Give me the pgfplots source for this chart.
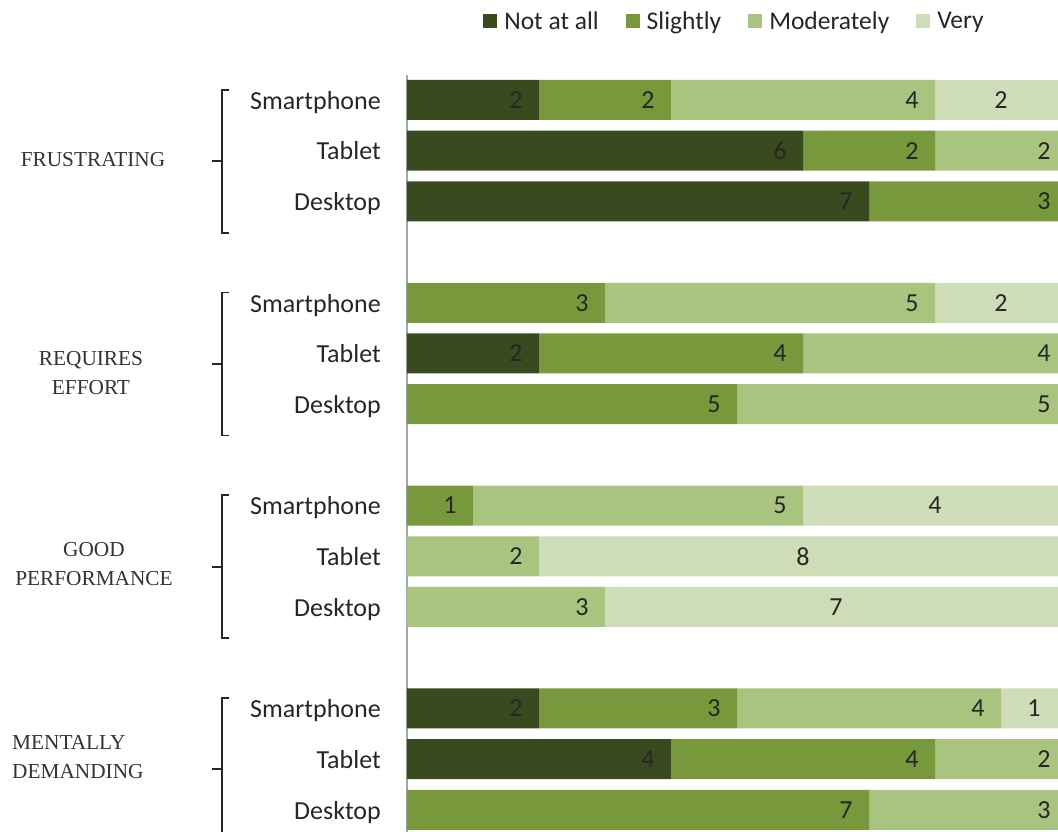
\documentclass[border=0pt]{standalone}
\usepackage{pgfplots}
\pgfplotsset{compat=1.18}
\usepackage{pgfplotstable}
\usepackage{fontspec}
\setmainfont{Carlito}
\newfontfamily\grpfont{Liberation Serif}
\definecolor{cNot}{HTML}{3A4A1F}
\definecolor{cSli}{HTML}{77993C}
\definecolor{cMod}{HTML}{A9C47F}
\definecolor{cVer}{HTML}{CEDCB7}
\definecolor{txt}{HTML}{262626}
\definecolor{grp}{HTML}{333333}

\pgfplotstableread{
pos na sl mo ve
0  2 2 4 2
1  6 2 2 0
2  7 3 0 0
4  0 3 5 2
5  2 4 4 0
6  0 5 5 0
8  0 1 5 4
9  0 0 2 8
10 0 0 3 7
12 2 3 4 1
13 4 4 2 0
14 0 7 3 0
}\data

\begin{document}
\begin{tikzpicture}
\begin{axis}[
  x=66pt, y=50.7pt,
  xmin=0, xmax=10,
  ymin=-0.493, ymax=14.438,
  y dir=reverse,
  enlargelimits=false,
  xbar stacked,
  bar width=40pt,
  axis x line=none,
  axis y line=left,
  y axis line style={-, draw=black!35, line width=1.5pt},
  ytick={0,1,2,4,5,6,8,9,10,12,13,14},
  yticklabels={Smartphone,Tablet,Desktop,Smartphone,Tablet,Desktop,Smartphone,Tablet,Desktop,Smartphone,Tablet,Desktop},
  ytick style={draw=none},
  major tick length=0pt,
  yticklabel style={font=\fontsize{26}{30}\selectfont, text=txt, anchor=east, inner sep=0pt, text height=18pt, text depth=6pt, xshift=-26pt, yshift=-3.3pt},
  point meta=explicit,
  /pgf/number format/assume math mode=true,
  nodes near coords={\pgfmathfloatifflags{\pgfplotspointmeta}{0}{}{\pgfmathprintnumber{\pgfplotspointmeta}}},
  every node near coord/.append style={font=\fontsize{26}{30}\selectfont, text=txt, anchor=center, inner sep=0pt},
  legend columns=-1,
  legend image code/.code={\fill[#1,draw=none] (0pt,-7pt) rectangle (14pt,7pt);},
  legend style={at={(0.4955,1)}, anchor=center, yshift=54pt, draw=none, fill=none,
    font=\fontsize{25.5}{30}\selectfont, text=txt,
    nodes={inner sep=1pt},
    /tikz/every odd column/.append style={column sep=6pt},
    /tikz/every even column/.append style={column sep=26pt}},
]
\addplot[fill=cNot, draw=none,
  visualization depends on={rawx \as \vv},
  nodes near coords style={xshift=\vv*33pt-23pt}] table[x=na, y=pos, meta=na] \data;
\addplot[fill=cSli, draw=none,
  visualization depends on={rawx \as \vv},
  nodes near coords style={xshift=\vv*33pt-23pt}] table[x=sl, y=pos, meta=sl] \data;
\addplot[fill=cMod, draw=none,
  visualization depends on={rawx \as \vv},
  nodes near coords style={xshift=\vv*33pt-23pt}] table[x=mo, y=pos, meta=mo] \data;
\addplot[fill=cVer, draw=none] table[x=ve, y=pos, meta=ve] \data;
\legend{Not at all, Slightly, Moderately, Very}
\end{axis}
% group braces
\foreach \d in {0,202.6,405.2,607.8}{
  \draw[txt, line width=1.7pt] (-178pt,742pt-\d pt) -- (-185pt,742pt-\d pt) -- (-185pt,599pt-\d pt) -- (-178pt,599pt-\d pt);
  \draw[txt, line width=2pt] (-185pt,670.5pt-\d pt) -- (-195pt,670.5pt-\d pt);
}
\begin{scope}[every node/.style={font=\grpfont\fontsize{21.3}{29}\selectfont, text=grp, inner sep=0pt}]
\node[align=center] at (-314pt,672pt) {FRUSTRATING};
\node[align=center] at (-316pt,458.5pt) {REQUIRES\\EFFORT};
\node[align=center] at (-313pt,267.5pt) {GOOD\\PERFORMANCE};
\node[align=left, anchor=west] at (-395pt,74.5pt) {MENTALLY\\DEMANDING};
\end{scope}
\pgfresetboundingbox
\useasboundingbox (-407pt,0pt) rectangle (651pt,832pt);
\end{tikzpicture}
\end{document}
